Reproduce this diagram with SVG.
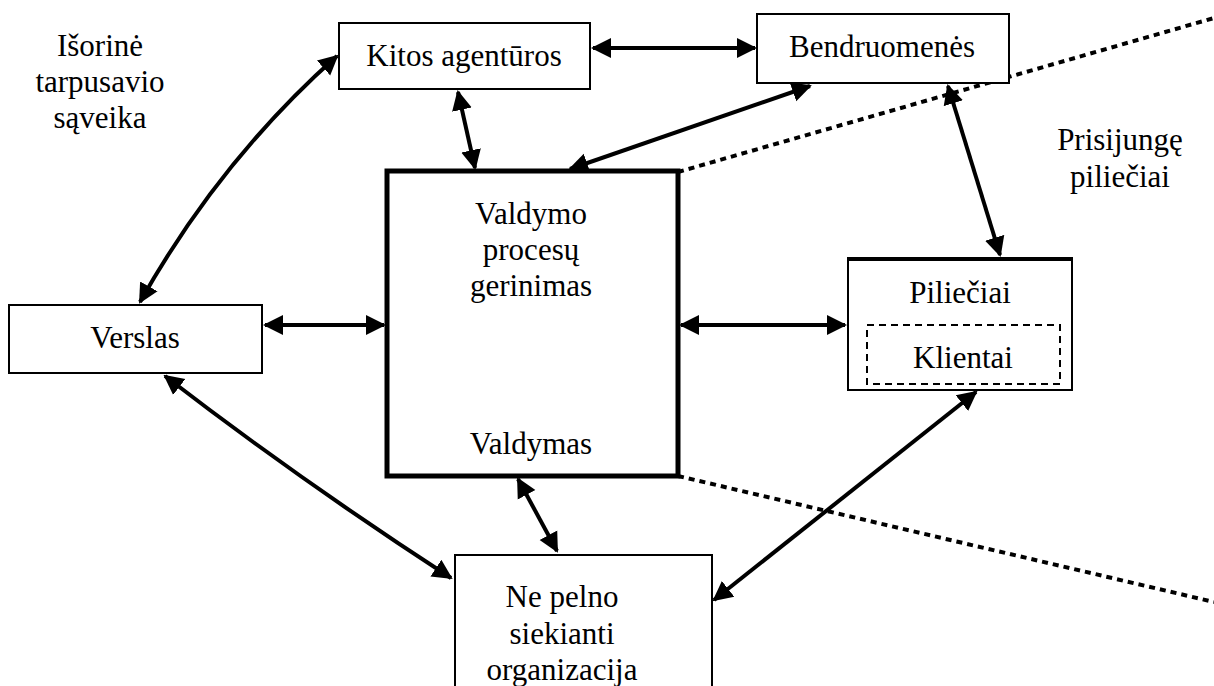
<svg xmlns="http://www.w3.org/2000/svg" width="1214" height="686" viewBox="0 0 1214 686">
  <style>
    .box { fill: #fff; stroke: #000; stroke-width: 2; }
    .main { fill: #fff; stroke: #000; stroke-width: 5; }
    .inner { fill: none; stroke: #000; stroke-width: 2; stroke-dasharray: 7 5; }
    .lbl { font-family: "Liberation Serif", "Times New Roman", "DejaVu Serif", serif; font-size: 31px; fill: #000; text-anchor: middle; }
    .link { fill: none; stroke: #000; stroke-width: 4; marker-start: url(#ah); marker-end: url(#ah); }
    .dot { fill: none; stroke: #000; stroke-width: 4; stroke-dasharray: 6 5; }
  </style>
  <defs>
    <marker id="ah" viewBox="0 0 10 10" refX="9" refY="5" markerWidth="5" markerHeight="5.5" orient="auto-start-reverse" markerUnits="strokeWidth">
      <path d="M0,0 L10,5 L0,10 Z" fill="#000"/>
    </marker>
  </defs>
  <rect width="1214" height="686" fill="#fff"/>

  <!-- dotted boundary lines -->
  <g id="boundary">
    <path class="dot" d="M678,172 L1214,18"/>
    <path class="dot" d="M678,476 L1214,602"/>
  </g>

  <!-- connectors -->
  <g id="connectors">
    <path class="link" d="M593,48 L755,48"/>
    <path class="link" d="M458,92 L475,168"/>
    <path class="link" d="M810,86 L570,169"/>
    <path class="link" d="M948,86 L1000,255"/>
    <path class="link" d="M337,56 Q220,160 140,302"/>
    <path class="link" d="M265,325 L384,325"/>
    <path class="link" d="M681,325 L845,325"/>
    <path class="link" d="M541,329 L541,408"/>
    <path class="link" d="M165,376 Q300,480 451,578"/>
    <path class="link" d="M518,479 L557,551"/>
    <path class="link" d="M976,392 L714,600"/>
  </g>

  <g id="label-external" font-family="Liberation Serif, serif">
    <text class="lbl" x="100" y="56">Išorinė</text>
    <text class="lbl" x="100" y="92">tarpusavio</text>
    <text class="lbl" x="100" y="128">sąveika</text>
  </g>

  <g id="label-connected" font-family="Liberation Serif, serif">
    <text class="lbl" x="1120" y="150">Prisijungę</text>
    <text class="lbl" x="1120" y="187">piliečiai</text>
  </g>

  <g id="node-kitos">
    <rect class="box" x="339" y="23" width="251" height="66"/>
    <text class="lbl" x="464" y="66">Kitos agentūros</text>
  </g>

  <g id="node-bendruomenes">
    <rect class="box" x="757" y="14" width="252" height="69"/>
    <text class="lbl" x="882" y="57">Bendruomenės</text>
  </g>

  <g id="node-main">
    <rect class="main" x="387" y="171" width="291" height="305"/>
    <text class="lbl" x="531" y="224">Valdymo</text>
    <text class="lbl" x="531" y="260">procesų</text>
    <text class="lbl" x="531" y="296">gerinimas</text>
    <text class="lbl" x="531" y="454">Valdymas</text>
  </g>

  <g id="node-verslas">
    <rect class="box" x="9" y="305" width="253" height="68"/>
    <text class="lbl" x="135" y="348">Verslas</text>
  </g>

  <g id="node-pilieciai">
    <rect class="box" x="848" y="258" width="224" height="132"/>
    <line x1="848" y1="259" x2="1072" y2="259" stroke="#000" stroke-width="4"/>
    <text class="lbl" x="960" y="303">Piliečiai</text>
    <rect class="inner" x="867" y="325" width="193" height="59"/>
    <text class="lbl" x="963" y="368">Klientai</text>
  </g>

  <g id="node-nepelno">
    <rect class="box" x="455" y="555" width="257" height="140"/>
    <text class="lbl" x="562" y="607">Ne pelno</text>
    <text class="lbl" x="562" y="644">siekianti</text>
    <text class="lbl" x="562" y="680">organizacija</text>
  </g>
</svg>
